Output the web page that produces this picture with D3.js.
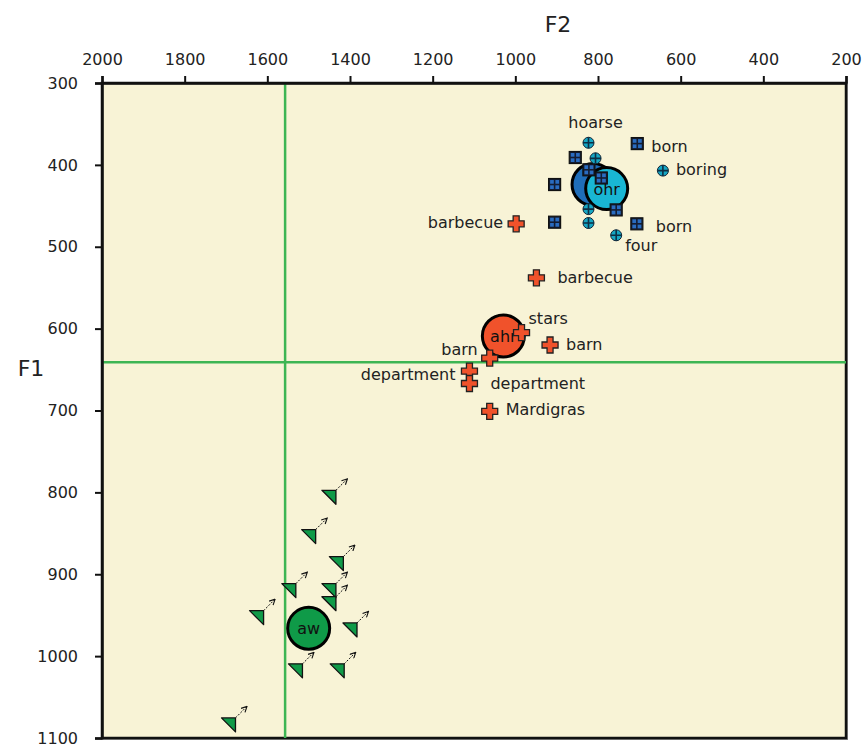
<!DOCTYPE html>
<html>
<head>
<meta charset="utf-8">
<script src="https://cdn.jsdelivr.net/npm/d3@7/dist/d3.min.js"></script>
<style>
  body { margin: 0; background: #fff; }
  svg text { font-family: "DejaVu Sans", Verdana, sans-serif; }
</style>
</head>
<body>
<svg id="chart" width="865" height="747"></svg>
<script>
// F2 (x) and F1 (y) in Hz
var xTicks = [2000, 1800, 1600, 1400, 1200, 1000, 800, 600, 400, 200];
var yTicks = [300, 400, 500, 600, 700, 800, 900, 1000, 1100];
var refF2 = 1557, refF1 = 641;

// "ohr" group, dark blue squares
var ohrSqF2 = [705, 855, 822, 792, 905, 756, 905, 706];
var ohrSqF1 = [374, 391, 406, 416, 424, 455, 470, 472];
var ohrSqLabel = ["born", "", "", "", "", "", "", "born"];

// "ohr" group, cyan circles
var ohrCiF2 = [823, 806, 643, 823, 823, 756];
var ohrCiF1 = [373, 392, 407, 454, 471, 486];
var ohrCiLabel = ["hoarse", "", "boring", "", "", "four"];

// "ahr" group, red crosses
var ahrF2 = [998, 949, 985, 916, 1062, 1111, 1111, 1062];
var ahrF1 = [472, 538, 605, 620, 636, 652, 667, 701];
var ahrLabel = ["barbecue", "barbecue", "stars", "barn", "barn", "department", "department", "Mardigras"];

// "aw" group, green triangles
var awF2 = [1451, 1500, 1433, 1548, 1451, 1451, 1626, 1400, 1532, 1431, 1694];
var awF1 = [806, 854, 887, 920, 920, 936, 953, 968, 1018, 1018, 1084];

// group means
var meanName = ["aw", "ahr", "ohr", "ohr"];
var meanF2 = [1500, 1029, 812, 779];
var meanF1 = [966, 609, 424, 429];
var meanColor = ["#0f9a48", "#f0522b", "#1f6db9", "#19b6d4"];
var meanText = ["aw", "ahr", "", "ohr"];

// label placement: [dx, dy, anchor]
var labelPos = {
  "born0": [14, 8, "start"], "born7": [19, 8, "start"],
  "hoarse0": [7, -15, "middle"], "boring2": [13, 4, "start"], "four5": [9, 16, "start"],
  "barbecue0": [-13, 4, "end"], "barbecue1": [21, 5, "start"],
  "stars2": [7, -9, "start"], "barn3": [16, 5, "start"], "barn4": [-12, -3, "end"],
  "department5": [-14, 9, "end"], "department6": [21, 6, "start"], "Mardigras7": [16, 4, "start"]
};

var svg = d3.select("#chart");
var pLeft = 102, pRight = 846, pTop = 83, pBottom = 738;

var x = d3.scaleLinear().domain([2000, 200]).range([pLeft, pRight]);
var y = d3.scaleLinear().domain([300, 1100]).range([pTop, pBottom]);

// shadow + background
svg.append("rect").attr("x", pLeft + 2).attr("y", pTop + 2)
  .attr("width", pRight - pLeft).attr("height", pBottom - pTop).attr("fill", "#888");
svg.append("rect").attr("x", pLeft).attr("y", pTop)
  .attr("width", pRight - pLeft).attr("height", pBottom - pTop)
  .attr("fill", "#f8f3d6").attr("stroke", "#111").attr("stroke-width", 2.5);

// reference lines
svg.append("line").attr("x1", x(refF2)).attr("x2", x(refF2)).attr("y1", pTop).attr("y2", pBottom)
  .attr("stroke", "#3db553").attr("stroke-width", 2.5);
svg.append("line").attr("x1", pLeft).attr("x2", pRight).attr("y1", y(refF1)).attr("y2", y(refF1))
  .attr("stroke", "#3db553").attr("stroke-width", 2.5);

// axes
var xAxis = svg.append("g").attr("transform", "translate(0," + pTop + ")")
  .call(d3.axisTop(x).tickValues(xTicks).tickFormat(d3.format("d")).tickSize(7).tickPadding(11));
var yAxis = svg.append("g").attr("transform", "translate(" + pLeft + ",0)")
  .call(d3.axisLeft(y).tickValues(yTicks).tickFormat(d3.format("d")).tickSize(7).tickPadding(17));
[xAxis, yAxis].forEach(function(a) {
  a.selectAll("path").attr("stroke", "#111").attr("stroke-width", 2.5);
  a.selectAll("line").attr("stroke", "#111").attr("stroke-width", 2);
  a.selectAll("text").attr("font-size", 16).attr("fill", "#222")
    .attr("font-family", "'DejaVu Sans', Verdana, sans-serif");
});

svg.append("text").attr("x", 558).attr("y", 32).attr("text-anchor", "middle")
  .attr("font-size", 22).attr("fill", "#222").text("F2");
svg.append("text").attr("x", 31).attr("y", 376).attr("text-anchor", "middle")
  .attr("font-size", 22).attr("fill", "#222").text("F1");

// mean circles
var means = meanName.map(function(n, i) {
  return { name: n, f2: meanF2[i], f1: meanF1[i], color: meanColor[i], text: meanText[i] };
});
var mg = svg.append("g").selectAll("g").data(means).enter().append("g")
  .attr("transform", function(d) { return "translate(" + x(d.f2) + "," + y(d.f1) + ")"; });
mg.append("circle").attr("r", 21).attr("fill", function(d) { return d.color; })
  .attr("stroke", "#000").attr("stroke-width", 3);
mg.append("text").attr("text-anchor", "middle").attr("dy", 6).attr("font-size", 16)
  .attr("fill", "#111").text(function(d) { return d.text; });

function pts(f2s, f1s, labels) {
  return f2s.map(function(v, i) {
    return { f2: v, f1: f1s[i], label: labels ? labels[i] : "", i: i };
  });
}

// green triangles with dashed arrows
var arrowDef = svg.append("defs").append("marker").attr("id", "ah")
  .attr("viewBox", "0 0 10 10").attr("refX", 8).attr("refY", 5)
  .attr("markerWidth", 7).attr("markerHeight", 7).attr("orient", "auto");
arrowDef.append("path").attr("d", "M1,1 L9,5 L1,9").attr("fill", "none").attr("stroke", "#111").attr("stroke-width", 1.6);

var aw = svg.append("g").selectAll("g").data(pts(awF2, awF1)).enter().append("g")
  .attr("transform", function(d) { return "translate(" + x(d.f2) + "," + y(d.f1) + ")"; });
aw.append("line").attr("x1", 7).attr("y1", -7).attr("x2", 18).attr("y2", -18)
  .attr("stroke", "#111").attr("stroke-width", 1).attr("stroke-dasharray", "2,1.5")
  .attr("marker-end", "url(#ah)");
aw.append("path").attr("d", "M-7,-7 L7,-7 L7,7 Z").attr("fill", "#0f9a48")
  .attr("stroke", "#111").attr("stroke-width", 1.3).attr("stroke-linejoin", "round");

// red crosses
var cross = "M-3,-8 H3 V-3 H8 V3 H3 V8 H-3 V3 H-8 V-3 H-3 Z";
svg.append("g").selectAll("path").data(pts(ahrF2, ahrF1, ahrLabel)).enter().append("path")
  .attr("transform", function(d) { return "translate(" + x(d.f2) + "," + y(d.f1) + ")"; })
  .attr("d", cross).attr("fill", "#f0522b").attr("stroke", "#222").attr("stroke-width", 1.3);

// blue squares
var sq = svg.append("g").selectAll("g").data(pts(ohrSqF2, ohrSqF1, ohrSqLabel)).enter().append("g")
  .attr("transform", function(d) { return "translate(" + x(d.f2) + "," + y(d.f1) + ")"; });
sq.append("rect").attr("x", -6).attr("y", -6).attr("width", 12).attr("height", 12)
  .attr("fill", "#141d33").attr("stroke", "#111").attr("stroke-width", 1.2);
[[-4.5, -4.5], [0.8, -4.5], [-4.5, 0.8], [0.8, 0.8]].forEach(function(o) {
  sq.append("rect").attr("x", o[0]).attr("y", o[1]).attr("width", 3.7).attr("height", 3.7)
    .attr("fill", "#2a6cc0");
});

// cyan circles with cross
var ci = svg.append("g").selectAll("g").data(pts(ohrCiF2, ohrCiF1, ohrCiLabel)).enter().append("g")
  .attr("transform", function(d) { return "translate(" + x(d.f2) + "," + y(d.f1) + ")"; });
ci.append("circle").attr("r", 5.5).attr("fill", "#15a6c3").attr("stroke", "#123").attr("stroke-width", 1);
ci.append("path").attr("d", "M-5.5,0 H5.5 M0,-5.5 V5.5").attr("stroke", "#0d2f45").attr("stroke-width", 1.6);

// word labels
var labelled = pts(ohrSqF2, ohrSqF1, ohrSqLabel)
  .concat(pts(ohrCiF2, ohrCiF1, ohrCiLabel))
  .concat(pts(ahrF2, ahrF1, ahrLabel))
  .filter(function(d) { return d.label; });
svg.append("g").selectAll("text").data(labelled).enter().append("text")
  .attr("x", function(d) { return x(d.f2) + labelPos[d.label + d.i][0]; })
  .attr("y", function(d) { return y(d.f1) + labelPos[d.label + d.i][1]; })
  .attr("text-anchor", function(d) { return labelPos[d.label + d.i][2]; })
  .attr("font-size", 16).attr("fill", "#222")
  .text(function(d) { return d.label; });
</script>
</body>
</html>
